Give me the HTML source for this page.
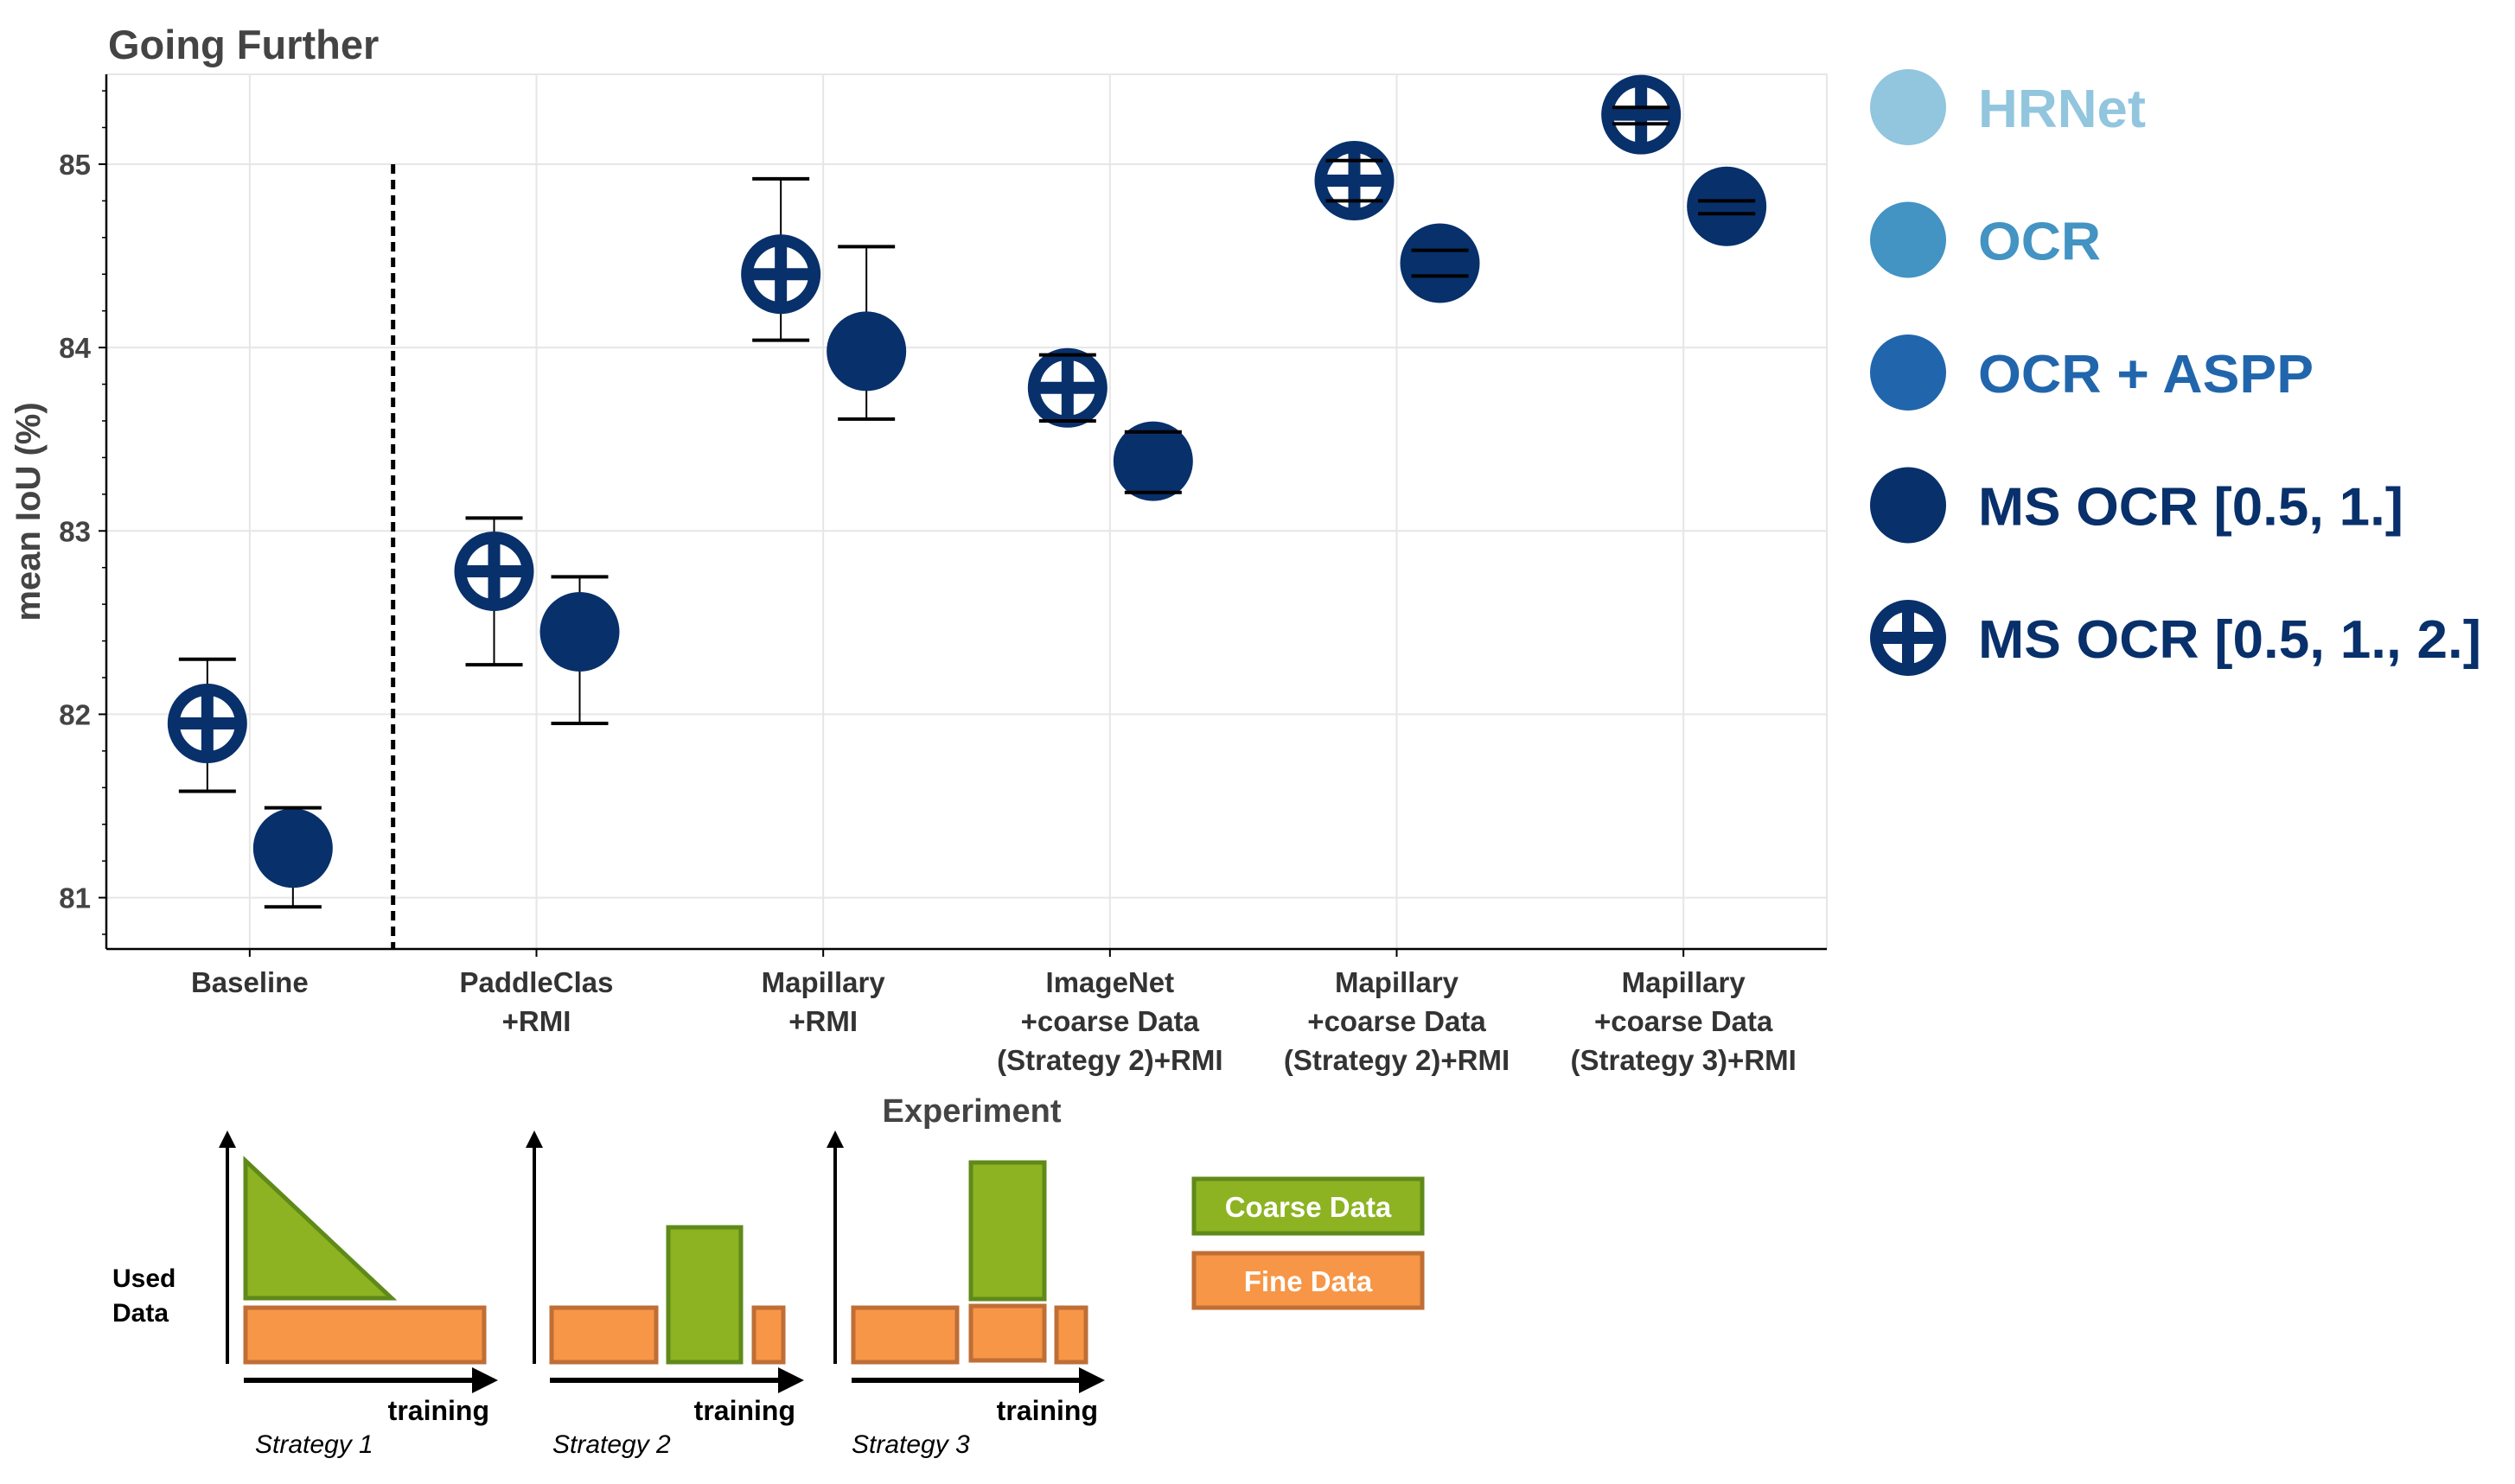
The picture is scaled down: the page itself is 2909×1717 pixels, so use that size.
<!DOCTYPE html>
<html><head><meta charset="utf-8"><style>
html,body{margin:0;padding:0;background:#fff;}
svg{display:block;font-family:"Liberation Sans",Arial,sans-serif;}
</style></head><body>
<svg id="chart" width="2909" height="1717" viewBox="0 0 2909 1717" xmlns="http://www.w3.org/2000/svg">
<text x="125" y="68" font-size="47" font-weight="bold" fill="#444">Going Further</text>
<g id="grid"></g>
<g id="axes"></g>
<g id="marks"></g>
<text transform="translate(46,592) rotate(-90)" text-anchor="middle" font-size="40" font-weight="bold" fill="#444">mean IoU (%)</text>
<text x="1124" y="1298" text-anchor="middle" font-size="38" font-weight="bold" fill="#444">Experiment</text>
<g id="legend"></g>
<g id="diagram" transform="translate(-7,-7)">
  <defs>
    <marker id="ah" markerWidth="5" markerHeight="5" refX="2.5" refY="2.5" orient="auto" markerUnits="strokeWidth"><path d="M0,0 L5,2.5 L0,5 z" fill="#000"/></marker>
  </defs>
  <text x="137" y="1496" font-size="30" font-weight="bold" fill="#000">Used</text>
  <text x="137" y="1536" font-size="30" font-weight="bold" fill="#000">Data</text>
  <line x1="270" y1="1585" x2="270" y2="1325" stroke="#000" stroke-width="4" marker-end="url(#ah)"/>
  <polygon points="291,1350 291,1509 460,1509" fill="#8db322" stroke="#5f8a1a" stroke-width="5"/>
  <rect x="291" y="1520" width="276" height="63" fill="#f79646" stroke="#bf6e36" stroke-width="5"/>
  <line x1="289" y1="1604" x2="568" y2="1604" stroke="#000" stroke-width="6" marker-end="url(#ah)"/>
  <text x="573" y="1650" text-anchor="end" font-size="32" font-weight="bold">training</text>
  <text x="302" y="1688" font-size="30" font-style="italic">Strategy 1</text>
  <line x1="625" y1="1585" x2="625" y2="1325" stroke="#000" stroke-width="4" marker-end="url(#ah)"/>
  <rect x="645" y="1520" width="121" height="63" fill="#f79646" stroke="#bf6e36" stroke-width="5"/>
  <rect x="780" y="1427" width="84" height="156" fill="#8db322" stroke="#5f8a1a" stroke-width="5"/>
  <rect x="879" y="1520" width="34" height="63" fill="#f79646" stroke="#bf6e36" stroke-width="5"/>
  <line x1="643" y1="1604" x2="922" y2="1604" stroke="#000" stroke-width="6" marker-end="url(#ah)"/>
  <text x="927" y="1650" text-anchor="end" font-size="32" font-weight="bold">training</text>
  <text x="646" y="1688" font-size="30" font-style="italic">Strategy 2</text>
  <line x1="973" y1="1585" x2="973" y2="1325" stroke="#000" stroke-width="4" marker-end="url(#ah)"/>
  <rect x="994" y="1520" width="120" height="63" fill="#f79646" stroke="#bf6e36" stroke-width="5"/>
  <rect x="1130" y="1352" width="85" height="158" fill="#8db322" stroke="#5f8a1a" stroke-width="5"/>
  <rect x="1130" y="1518" width="85" height="63" fill="#f79646" stroke="#bf6e36" stroke-width="5"/>
  <rect x="1229" y="1520" width="34" height="63" fill="#f79646" stroke="#bf6e36" stroke-width="5"/>
  <line x1="992" y1="1604" x2="1270" y2="1604" stroke="#000" stroke-width="6" marker-end="url(#ah)"/>
  <text x="1277" y="1650" text-anchor="end" font-size="32" font-weight="bold">training</text>
  <text x="992" y="1688" font-size="30" font-style="italic">Strategy 3</text>
  <rect x="1388" y="1371" width="264" height="63" fill="#8db322" stroke="#5f8a1a" stroke-width="5"/>
  <text x="1520" y="1415" text-anchor="middle" font-size="33" font-weight="bold" fill="#fff">Coarse Data</text>
  <rect x="1388" y="1457" width="264" height="63" fill="#f79646" stroke="#bf6e36" stroke-width="5"/>
  <text x="1520" y="1501" text-anchor="middle" font-size="33" font-weight="bold" fill="#fff">Fine Data</text>
</g>
</svg>
<script>
const categories = [["Baseline"],["PaddleClas","+RMI"],["Mapillary","+RMI"],["ImageNet","+coarse Data","(Strategy 2)+RMI"],["Mapillary","+coarse Data","(Strategy 2)+RMI"],["Mapillary","+coarse Data","(Strategy 3)+RMI"]];
const msOcr3Mean = [81.95, 82.78, 84.40, 83.78, 84.91, 85.27];
const msOcr3Low  = [81.58, 82.27, 84.04, 83.60, 84.80, 85.22];
const msOcr3High = [82.30, 83.07, 84.92, 83.96, 85.02, 85.31];
const msOcr2Mean = [81.27, 82.45, 83.98, 83.38, 84.46, 84.77];
const msOcr2Low  = [80.95, 81.95, 83.61, 83.21, 84.39, 84.73];
const msOcr2High = [81.49, 82.75, 84.55, 83.54, 84.53, 84.80];
const yTicks = [81, 82, 83, 84, 85];
const legendLabels = ["HRNet","OCR","OCR + ASPP","MS OCR [0.5, 1.]","MS OCR [0.5, 1., 2.]"];
const legendColors = ["#92c5de","#4393c3","#2166ac","#08306b","#08306b"];
const legendWidths = [194,142,388,492,582];

const NS="http://www.w3.org/2000/svg";
const L=123,R=2113,T=86,B=1098,YMIN=80.72,YMAX=85.49;
const y=v=>B-(v-YMIN)/(YMAX-YMIN)*(B-T);
const step=(R-L)/categories.length;
const x=i=>L+step*(i+0.5);
function mk(p,tag,a){const e=document.createElementNS(NS,tag);for(const k in a)e.setAttribute(k,a[k]);p.appendChild(e);return e;}
const grid=document.getElementById('grid'),axes=document.getElementById('axes'),marks=document.getElementById('marks'),legend=document.getElementById('legend');

let gb=mk(grid,'rect',{x:L,y:T,width:R-L,height:B-T,fill:'none',stroke:'#e6e6e6','stroke-width':2});


yTicks.forEach(v=>{
  const g=mk(grid,'line',{x1:L,x2:R,y1:y(v),y2:y(v),stroke:'#e6e6e6','stroke-width':2});
  
  
  const t=mk(axes,'line',{x1:L-9,x2:L,y1:y(v),y2:y(v),stroke:'#000','stroke-width':2});
  
  
  const lb=mk(axes,'text',{x:L-18,y:y(v)+12,'text-anchor':'end','font-size':33,'font-weight':'bold',fill:'#444'});
  lb.textContent=v;
  
  
});
for(let v=80.8;v<85.45;v+=0.2){
  if(Math.abs(v-Math.round(v))<0.01)continue;
  const t=mk(axes,'line',{x1:L-5,x2:L,y1:y(v),y2:y(v),stroke:'#000','stroke-width':1.5});
  
  
}
categories.forEach((c,i)=>{
  const g=mk(grid,'line',{x1:x(i),x2:x(i),y1:T,y2:B,stroke:'#e6e6e6','stroke-width':2});
  
  
  const t=mk(axes,'line',{x1:x(i),x2:x(i),y1:B,y2:B+9,stroke:'#000','stroke-width':2});
  
  
  c.forEach((ln,j)=>{
    const lb=mk(axes,'text',{x:x(i),y:1148+45*j,'text-anchor':'middle','font-size':33,'font-weight':'bold',fill:'#333'});
    lb.textContent=ln;
    
    
  });
});
let ax=mk(axes,'line',{x1:L,x2:L,y1:T,y2:B,stroke:'#000','stroke-width':2.5});


ax=mk(axes,'line',{x1:L,x2:R,y1:B,y2:B,stroke:'#000','stroke-width':2.5});


const dl=mk(axes,'line',{x1:(x(0)+x(1))/2,x2:(x(0)+x(1))/2,y1:y(85),y2:B,stroke:'#000','stroke-width':5,'stroke-dasharray':'11 7'});



function hollow(p,cx,cy,r){
  const g=mk(p,'g',{});
  mk(g,'circle',{cx:cx,cy:cy,r:r-7,fill:'#fff',stroke:'#08306b','stroke-width':14});
  mk(g,'line',{x1:cx-r+2,x2:cx+r-2,y1:cy,y2:cy,stroke:'#08306b','stroke-width':14});
  mk(g,'line',{x1:cx,x2:cx,y1:cy-r+2,y2:cy+r-2,stroke:'#08306b','stroke-width':14});
  return g;
}
function stem(cx,lo,hi){
  return mk(marks,'line',{x1:cx,x2:cx,y1:y(lo),y2:y(hi),stroke:'#000','stroke-width':2});
}
function caps(cx,lo,hi){
  const g=mk(marks,'g',{stroke:'#000'});
  mk(g,'line',{x1:cx-33,x2:cx+33,y1:y(lo),y2:y(lo),'stroke-width':4});
  mk(g,'line',{x1:cx-33,x2:cx+33,y1:y(hi),y2:y(hi),'stroke-width':4});
  return g;
}
categories.forEach((c,i)=>{
  const s1=stem(x(i)-49,msOcr3Low[i],msOcr3High[i]);
  
  
  const s2=stem(x(i)+50,msOcr2Low[i],msOcr2High[i]);
  
  
  const h=hollow(marks,x(i)-49,y(msOcr3Mean[i]),46);
  
  
  const f=mk(marks,'circle',{cx:x(i)+50,cy:y(msOcr2Mean[i]),r:46,fill:'#08306b'});
  
  
  const e1=caps(x(i)-49,msOcr3Low[i],msOcr3High[i]);
  
  
  const e2=caps(x(i)+50,msOcr2Low[i],msOcr2High[i]);
  
  
});
legendLabels.forEach((lab,i)=>{
  const cy=124+153.5*i;
  let m;
  if(i===4){m=hollow(legend,2207,cy,44);}
  else{m=mk(legend,'circle',{cx:2207,cy:cy,r:44,fill:legendColors[i]});}
  
  
  const t=mk(legend,'text',{x:2288,y:cy+23,'font-size':62,'font-weight':'bold',fill:legendColors[i],textLength:legendWidths[i],lengthAdjust:'spacingAndGlyphs'});
  t.textContent=lab;
  
  
});
</script>
</body></html>
